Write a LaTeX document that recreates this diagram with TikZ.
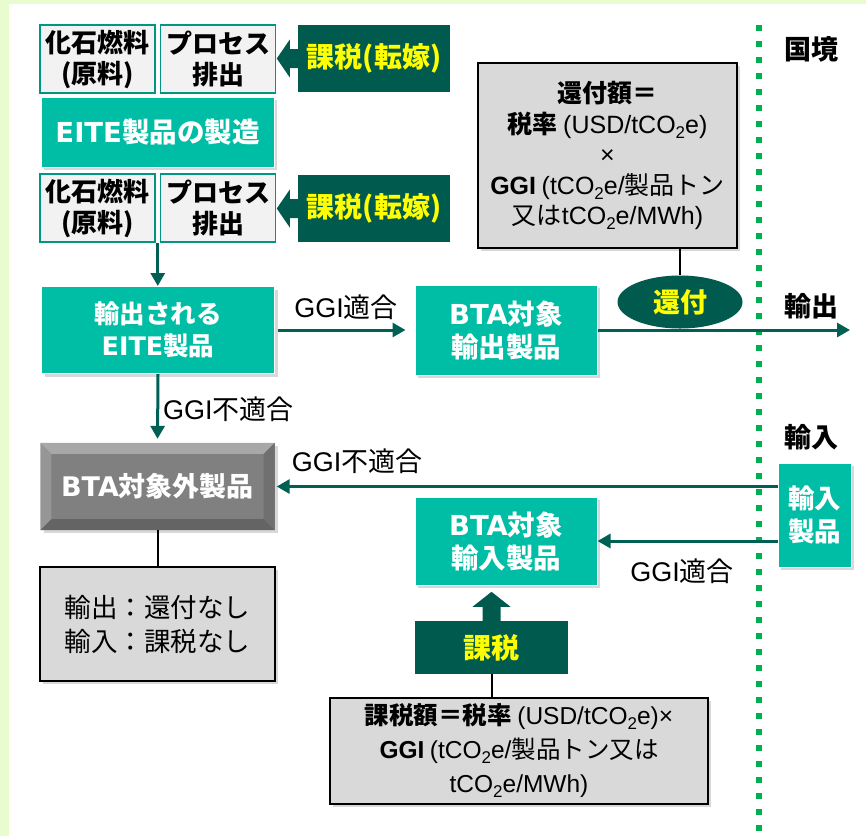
\documentclass[tikz,border=0pt]{standalone}
\usepackage{fontspec}
\setmainfont{Noto Sans CJK JP}
\newfontfamily\ar{Liberation Sans}
\newfontfamily\dv{DejaVu Sans}
\usetikzlibrary{arrows.meta,shadows,calc,shapes.geometric}
\definecolor{teal1}{RGB}{0,190,165}
\definecolor{dkg}{RGB}{0,90,78}
\definecolor{lnc}{RGB}{0,96,84}
\definecolor{ylw}{RGB}{255,255,0}
\definecolor{bgg}{RGB}{232,252,206}
\definecolor{bdr}{RGB}{0,176,80}
\definecolor{pale}{RGB}{242,242,242}
\definecolor{tealb}{RGB}{0,150,130}
\definecolor{gry}{RGB}{217,217,217}
\definecolor{bev0}{RGB}{128,128,128}
\definecolor{bevT}{RGB}{168,168,168}
\definecolor{bevL}{RGB}{150,150,150}
\definecolor{bevR}{RGB}{112,112,112}
\definecolor{bevB}{RGB}{100,100,100}
\newcommand\fs[2]{\fontsize{#1}{#2}\selectfont}
\newcommand\two{\raisebox{-5pt}{\fs{17}{17}2}}
\begin{document}
\begin{tikzpicture}[x=1pt,y=-1pt,
 shd/.style={drop shadow={opacity=0.3,shadow xshift=3pt,shadow yshift=-3pt}},
 src/.style={draw=tealb,line width=1.5pt,fill=pale,minimum width=115pt,minimum height=68pt,inner sep=0pt,align=center,font=\fs{26}{31}\bfseries},
 tealbox/.style={fill=teal1,draw=white,line width=1pt,text=white,align=center,inner sep=0pt,shd,font=\fs{27.5}{33}\bfseries},
 taxbox/.style={fill=dkg,text=ylw,inner sep=0pt,align=center,font=\fs{28}{34}\bfseries},
 formbox/.style={fill=gry,draw=black,line width=2pt,align=center,inner sep=0pt,shd},
 conn/.style={draw=lnc,line width=3pt,-{Triangle[length=13pt,width=14pt]}},
 blk/.style={draw=black,line width=2pt},
 lbl/.style={font=\fs{27}{32},inner sep=0pt},
 blbl/.style={font=\fs{27}{32}\bfseries,inner sep=0pt},
]
\fill[bgg] (0,0) rectangle (866,836);
\fill[white] (9,4) rectangle (866,836);
\useasboundingbox (0,0) rectangle (866,836);

% border
\coordinate (b1) at (759,25);
\coordinate (b2) at (759,836);
\draw[bdr,line width=6pt,dash pattern=on 6pt off 10pt] (b1) -- (b2);

% top rows
\node[src] (fos1) at (97.5,59) {化石燃料\\(原料)};
\node[src] (proc1) at (218,59) {プロセス\\排出};
\node[taxbox,minimum width=152pt,minimum height=67pt] (tax1) at (374,58.5) {課税(転嫁)};
\fill[dkg] ($(tax1.west)+(0.5,-9.5)$) -- ++(-8.5,0) -- ++(0,-9.5) -- ($(tax1.west)+(-21,0)$) -- ($(tax1.west)+(-8,19)$) -- ++(0,-9.5) -- ($(tax1.west)+(0.5,9.5)$) -- cycle;

\node[tealbox,minimum width=233pt,minimum height=70pt] (mfg) at (157.5,132) {{\dv EITE}製品の製造};

\node[src] (fos2) at (97.5,208) {化石燃料\\(原料)};
\node[src] (proc2) at (218,208) {プロセス\\排出};
\node[taxbox,minimum width=152pt,minimum height=67pt] (tax2) at (374,208.5) {課税(転嫁)};
\fill[dkg] ($(tax2.west)+(0.5,-9.5)$) -- ++(-8.5,0) -- ++(0,-9.5) -- ($(tax2.west)+(-21,0)$) -- ($(tax2.west)+(-8,19)$) -- ++(0,-9.5) -- ($(tax2.west)+(0.5,9.5)$) -- cycle;

% refund formula
\node[formbox,minimum width=259pt,minimum height=185pt,font=\fs{25}{30.5}] (refund) at (607.5,155.5)
 {{\bfseries 還付額＝}\\{\bfseries 税率} {\ar (USD/tCO\two e)}\\{\ar ×}\\{\ar\bfseries GGI} {\ar (tCO\two e/}製品トン\\又は{\ar tCO\two e/MWh)}};

% export row
\node[tealbox,minimum width=233pt,minimum height=87pt,font=\fs{25.5}{32}\bfseries] (exp) at (158,330) {輸出される\\{\dv EITE}製品};
\node[tealbox,minimum width=182pt,minimum height=90pt] (btaex) at (506,330) {{\dv BTA}対象\\輸出製品};
\coordinate (expEnd) at (850,330);
\draw[conn] (btaex.east) -- (btaex.east -| expEnd);
\node[ellipse,fill=dkg,text=ylw,minimum width=125pt,minimum height=53pt,inner sep=0pt,font=\fs{27}{32}\bfseries] (ref) at (680,302) {還付};
\draw[blk] (refund.south -| ref) -- (ref.north);

\node[blbl] (kokkyo) at (811,49) {国境};
\node[blbl] (yushutsu) at (811,306) {輸出};
\node[blbl] (yunyu) at (811,437) {輸入};

\coordinate (g2) at ($(fos2.south east)!0.5!(proc2.south west)$);
\draw[conn] (g2) -- (g2 |- exp.north);
\draw[conn,shorten <=3pt,shorten >=9pt] (exp.east) -- (btaex.west);
\node[lbl] (l1) at (346,307) {{\ar GGI}適合};

% non-BTA
\node[fill=bev0,minimum width=234pt,minimum height=87pt,inner sep=0pt,shd] (non) at (157.5,486.5) {};
\fill[bevT] (non.north west) -- (non.north east) -- ($(non.north east)+(-11,11)$) -- ($(non.north west)+(11,11)$) -- cycle;
\fill[bevL] (non.north west) -- ($(non.north west)+(11,11)$) -- ($(non.south west)+(11,-11)$) -- (non.south west) -- cycle;
\fill[bevR] (non.north east) -- ($(non.north east)+(-11,11)$) -- ($(non.south east)+(-11,-11)$) -- (non.south east) -- cycle;
\fill[bevB] (non.south west) -- ($(non.south west)+(11,-11)$) -- ($(non.south east)+(-11,-11)$) -- (non.south east) -- cycle;
\node[text=white,font=\fs{27}{32}\bfseries,inner sep=0pt] (nontxt) at (non.center) {{\dv BTA}対象外製品};

\draw[conn,shorten >=4pt] (exp.south) -- (non.north);
\node[lbl,anchor=west] (l2) at (163,409) {{\ar GGI}不適合};

\node[formbox,minimum width=235pt,minimum height=114pt,font=\fs{26.5}{34}] (note) at (157.5,624) {輸出：還付なし\\輸入：課税なし};
\draw[blk] (non.south) -- (note.north);

% import
\node[tealbox,minimum width=73pt,minimum height=104pt,font=\fs{26.5}{33}\bfseries] (imp) at (814.5,515) {輸入\\製品};
\draw[conn,shorten >=2pt] (non.east -| imp.west) -- (non.east);
\node[lbl] (l3) at (357,461) {{\ar GGI}不適合};

\node[tealbox,minimum width=182pt,minimum height=88pt] (btaim) at (506,541) {{\dv BTA}対象\\輸入製品};
\draw[conn] (btaim.east -| imp.west) -- (btaim.east);
\node[lbl] (l4) at (682,571) {{\ar GGI}適合};

\node[taxbox,minimum width=153pt,minimum height=53pt] (tax3) at (491.5,647.5) {課税};
\fill[dkg] ($(tax3.north)+(-9,0.5)$) -- ++(0,-14.5) -- ++(-10,0) -- ($(tax3.north)+(0,-29)$) -- ($(tax3.north)+(19,-14)$) -- ++(-10,0) -- ($(tax3.north)+(9,0.5)$) -- cycle;

\node[formbox,minimum width=378pt,minimum height=106pt,font=\fs{24.5}{34}] (form) at (519,751)
 {{\bfseries 課税額＝税率} {\ar (USD/tCO\two e)×}\\{\ar\bfseries GGI} {\ar (tCO\two e/}製品トン又は\\{\ar tCO\two e/MWh)}};
\draw[blk] (tax3.south) -- (tax3.south |- form.north);
\end{tikzpicture}
\end{document}
